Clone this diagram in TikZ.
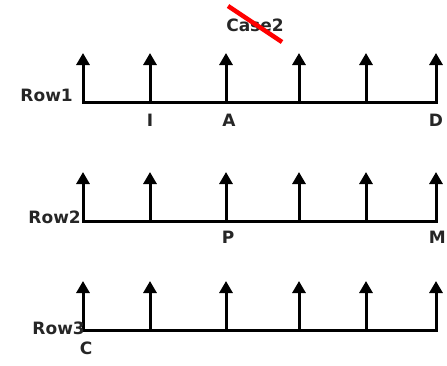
\documentclass[tikz,border=0pt]{standalone}
\usepackage{fontspec}
\setsansfont{DejaVu Sans}
\usetikzlibrary{arrows.meta,positioning}
\tikzset{>/.tip={Triangle[length=12pt,width=13pt]}}
\tikzset{
  lab/.style={font=\sffamily\bfseries\fontsize{17}{17}\selectfont,text=black!85,inner sep=0pt},
  axis/.style={line width=3pt,line cap=rect},
  up/.style={->,line width=3pt},
}

\begin{document}
\begin{tikzpicture}[x=1pt,y=-1pt,node distance=12pt]
  \useasboundingbox (0,0) rectangle (447,365);
  % three rows, six upward arrows on each
  \foreach \r/\y in {1/102,2/221,3/330}{
    \foreach \c/\x in {1/83,2/150,3/226,4/299,5/366,6/436}{
      \coordinate (r\r b\c) at (\x,\y);
      \coordinate (r\r t\c) at (\x,\y-49);
      \draw[up] (r\r b\c) -- (r\r t\c);
    }
    \draw[axis] (r\r b1) -- (r\r b6);
  }

  \node[lab,anchor=base east] (row1) at ([xshift=-10pt,yshift=1pt]r1b1) {Row1};
  \node[lab,anchor=base east] (row2) at ([xshift=-2pt,yshift=-2pt]r2b1) {Row2};
  \node[lab,anchor=base east] (row3) at ([xshift=2pt,yshift=-4pt]r3b1) {Row3};

  \node[lab,below=of r1b2] (I) {I};
  \node[lab,below=of r1b3,xshift=3pt] (A) {A};
  \node[lab,below=of r1b6,xshift=0pt] (D) {D};
  \node[lab,below=10pt of r2b6,anchor=north east,xshift=10pt] (M) {M};
  \node[lab,below=10pt of r2b3,xshift=2pt] (P) {P};
  \node[lab,below=of r3b1,xshift=3pt] (C) {C};

  \node[lab] (case) at (255,25) {Case2};
  \draw[red,line width=4.5pt] ([shift={(-27,-19)}]case.center) -- ([shift={(27,17)}]case.center);
\end{tikzpicture}
\end{document}
